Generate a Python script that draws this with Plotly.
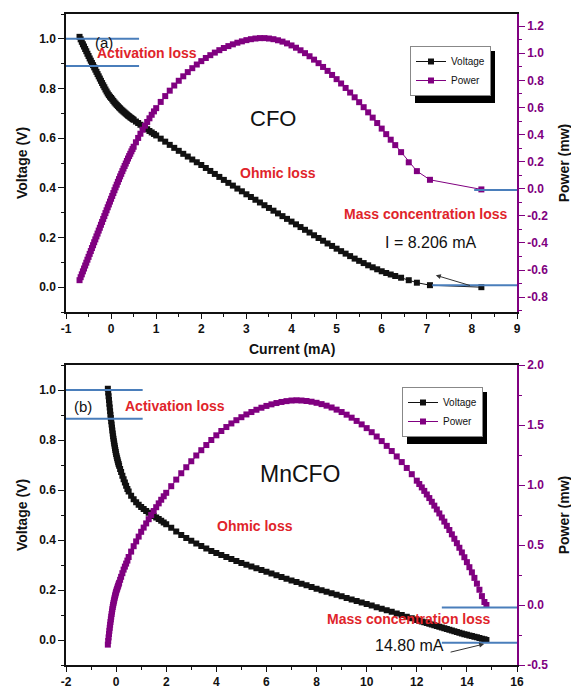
import plotly.graph_objects as go

# ---------------- data: panel (a) CFO ----------------
cfo_current = [-0.700, -0.675, -0.650, -0.625, -0.600, -0.575, -0.550, -0.525, -0.500, -0.475,
               -0.450, -0.425, -0.400, -0.375, -0.350, -0.325, -0.300, -0.275, -0.250, -0.225,
               -0.200, -0.175, -0.150, -0.125, -0.100, -0.075, -0.050, -0.025, 0.000, 0.025,
               0.050, 0.075, 0.100, 0.125, 0.150, 0.175, 0.200, 0.225, 0.250, 0.275,
               0.300, 0.325, 0.350, 0.375, 0.400, 0.425, 0.450, 0.475, 0.500,
               0.55, 0.60, 0.65, 0.70, 0.75, 0.80, 0.85, 0.90, 0.95, 1.00,
               1.1, 1.2, 1.3, 1.4, 1.5, 1.6, 1.7, 1.8, 1.9, 2.0,
               2.1, 2.2, 2.3, 2.4, 2.5, 2.6, 2.7, 2.8, 2.9, 3.0,
               3.1, 3.2, 3.3, 3.4, 3.5, 3.6, 3.7, 3.8, 3.9, 4.0,
               4.1, 4.2, 4.3, 4.4, 4.5, 4.6, 4.7, 4.8, 4.9, 5.0,
               5.1, 5.2, 5.3, 5.4, 5.5, 5.6, 5.7, 5.8, 5.9, 6.0,
               6.1, 6.2, 6.3, 6.43, 6.6, 6.78, 7.07, 8.21]
cfo_voltage = [1.008, 0.998, 0.988, 0.978, 0.969, 0.959, 0.950, 0.940, 0.931, 0.921,
               0.912, 0.903, 0.894, 0.885, 0.876, 0.867, 0.858, 0.849, 0.840, 0.831,
               0.822, 0.813, 0.805, 0.796, 0.788, 0.780, 0.773, 0.767, 0.762, 0.756,
               0.750, 0.744, 0.739, 0.734, 0.729, 0.724, 0.720, 0.715, 0.711, 0.707,
               0.703, 0.699, 0.695, 0.691, 0.688, 0.684, 0.681, 0.677, 0.674,
               0.667, 0.661, 0.654, 0.648, 0.642, 0.636, 0.629, 0.623, 0.617, 0.611,
               0.598, 0.586, 0.573, 0.561, 0.549, 0.537, 0.526, 0.514, 0.503, 0.492,
               0.480, 0.468, 0.456, 0.444, 0.432, 0.420, 0.409, 0.397, 0.386, 0.374,
               0.363, 0.352, 0.341, 0.330, 0.319, 0.308, 0.297, 0.286, 0.275, 0.264,
               0.253, 0.242, 0.231, 0.220, 0.209, 0.198, 0.187, 0.176, 0.166, 0.155,
               0.145, 0.135, 0.125, 0.115, 0.106, 0.097, 0.088, 0.080, 0.072, 0.064,
               0.057, 0.051, 0.045, 0.038, 0.028, 0.018, 0.008, 0.000]
cfo_power = [-0.675, -0.653, -0.632, -0.610, -0.589, -0.567, -0.546, -0.524, -0.503, -0.481,
             -0.460, -0.438, -0.417, -0.395, -0.374, -0.352, -0.331, -0.309, -0.288, -0.266,
             -0.245, -0.223, -0.202, -0.180, -0.159, -0.137, -0.116, -0.095, -0.074, -0.053,
             -0.032, -0.011, 0.010, 0.030, 0.051, 0.071, 0.091, 0.110, 0.130, 0.149,
             0.168, 0.186, 0.205, 0.223, 0.241, 0.258, 0.276, 0.293, 0.310,
             0.343, 0.375, 0.406, 0.436, 0.465, 0.493, 0.520, 0.546, 0.571, 0.595,
             0.641, 0.684, 0.724, 0.762, 0.797, 0.830, 0.861, 0.890, 0.917, 0.942,
             0.965, 0.986, 1.005, 1.023, 1.039, 1.053, 1.066, 1.078, 1.088, 1.097,
             1.104, 1.109, 1.112, 1.112, 1.109, 1.104, 1.096, 1.086, 1.073, 1.058,
             1.041, 1.022, 1.001, 0.978, 0.953, 0.927, 0.899, 0.870, 0.840, 0.809,
             0.777, 0.744, 0.710, 0.675, 0.639, 0.602, 0.564, 0.525, 0.485, 0.444,
             0.403, 0.362, 0.322, 0.270, 0.195, 0.130, 0.066, -0.005]

# ---------------- data: panel (b) MnCFO ----------------
mn_current = [-0.330, -0.315, -0.300, -0.285, -0.270, -0.255, -0.240, -0.225, -0.210, -0.195,
              -0.180, -0.165, -0.150, -0.135, -0.120, -0.105, -0.090, -0.075, -0.060, -0.045,
              -0.030, -0.015, 0.00, 0.02, 0.04, 0.06, 0.08, 0.10, 0.12, 0.16,
              0.20, 0.25, 0.30, 0.35, 0.40, 0.45, 0.50, 0.60, 0.70, 0.80,
              0.90, 1.00, 1.10, 1.20, 1.30, 1.40, 1.50, 1.60, 1.70, 1.80,
              1.90, 2.00,
              2.2, 2.4, 2.6, 2.8, 3.0, 3.2, 3.4, 3.6, 3.8, 4.0,
              4.2, 4.4, 4.6, 4.8, 5.0, 5.2, 5.4, 5.6, 5.8, 6.0,
              6.2, 6.4, 6.6, 6.8, 7.0, 7.2, 7.4, 7.6, 7.8, 8.0,
              8.2, 8.4, 8.6, 8.8, 9.0, 9.2, 9.4, 9.6, 9.8, 10.0,
              10.2, 10.4, 10.6, 10.8, 11.0, 11.2, 11.4, 11.6, 11.8, 12.0,
              12.1, 12.2, 12.3, 12.4, 12.5, 12.6, 12.7, 12.8, 12.9, 13.0,
              13.1, 13.2, 13.3, 13.4, 13.5, 13.6, 13.7, 13.8, 13.9, 14.0,
              14.1, 14.2, 14.3, 14.4, 14.5, 14.6, 14.7, 14.78]
mn_voltage = [1.005, 0.990, 0.975, 0.960, 0.945, 0.930, 0.915, 0.901, 0.888, 0.875,
              0.862, 0.850, 0.838, 0.826, 0.815, 0.805, 0.795, 0.786, 0.777, 0.768,
              0.760, 0.752, 0.744, 0.735, 0.727, 0.719, 0.711, 0.704, 0.697, 0.684,
              0.672, 0.657, 0.643, 0.630, 0.617, 0.604, 0.594, 0.577, 0.563, 0.551,
              0.541, 0.532, 0.524, 0.516, 0.509, 0.502, 0.496, 0.490, 0.484, 0.477,
              0.470, 0.463,
              0.449, 0.434, 0.420, 0.408, 0.397, 0.386, 0.376, 0.366, 0.356, 0.348,
              0.340, 0.332, 0.324, 0.316, 0.308, 0.301, 0.294, 0.287, 0.280, 0.273,
              0.266, 0.259, 0.252, 0.245, 0.238, 0.232, 0.225, 0.219, 0.212, 0.205,
              0.199, 0.193, 0.187, 0.181, 0.175, 0.168, 0.162, 0.156, 0.150, 0.144,
              0.138, 0.131, 0.125, 0.119, 0.113, 0.106, 0.100, 0.093, 0.087, 0.080,
              0.077, 0.074, 0.071, 0.068, 0.065, 0.062, 0.059, 0.056, 0.053, 0.050,
              0.047, 0.044, 0.041, 0.038, 0.035, 0.032, 0.029, 0.026, 0.023, 0.021,
              0.018, 0.016, 0.013, 0.011, 0.008, 0.005, 0.003, 0.000]
mn_power = [-0.330, -0.300, -0.270, -0.242, -0.215, -0.190, -0.165, -0.142, -0.120, -0.097,
            -0.075, -0.055, -0.035, -0.017, 0.000, 0.015, 0.030, 0.045, 0.060, 0.073,
            0.085, 0.098, 0.110, 0.123, 0.135, 0.148, 0.160, 0.173, 0.185, 0.210,
            0.235, 0.265, 0.295, 0.320, 0.345, 0.370, 0.400, 0.445, 0.490, 0.530,
            0.570, 0.610, 0.645, 0.680, 0.715, 0.750, 0.783, 0.815, 0.847, 0.877,
            0.906, 0.935,
            0.990, 1.045, 1.098, 1.148, 1.198, 1.246, 1.290, 1.333, 1.375, 1.414,
            1.450, 1.483, 1.513, 1.540, 1.565, 1.588, 1.608, 1.627, 1.644, 1.659,
            1.672, 1.683, 1.692, 1.699, 1.704, 1.706, 1.704, 1.700, 1.694, 1.685,
            1.674, 1.661, 1.646, 1.628, 1.608, 1.586, 1.561, 1.534, 1.505, 1.474,
            1.440, 1.404, 1.366, 1.326, 1.283, 1.238, 1.191, 1.142, 1.090, 1.036,
            1.008, 0.980, 0.951, 0.921, 0.891, 0.860, 0.828, 0.796, 0.763, 0.729,
            0.695, 0.660, 0.625, 0.589, 0.552, 0.515, 0.477, 0.438, 0.398, 0.357,
            0.315, 0.272, 0.226, 0.178, 0.127, 0.074, 0.025, 0.000]

# ---------------- tick labels ----------------
cfo_x_tickvals = [-1, 0, 1, 2, 3, 4, 5, 6, 7, 8, 9]
cfo_x_ticktext = ["-1", "0", "1", "2", "3", "4", "5", "6", "7", "8", "9"]
mn_x_tickvals = [-2, 0, 2, 4, 6, 8, 10, 12, 14, 16]
mn_x_ticktext = ["-2", "0", "2", "4", "6", "8", "10", "12", "14", "16"]
v_tickvals = [0.0, 0.2, 0.4, 0.6, 0.8, 1.0]
v_ticktext = ["0.0", "0.2", "0.4", "0.6", "0.8", "1.0"]
cfo_p_tickvals = [-0.8, -0.6, -0.4, -0.2, 0.0, 0.2, 0.4, 0.6, 0.8, 1.0, 1.2]
cfo_p_ticktext = ["-0.8", "-0.6", "-0.4", "-0.2", "0.0", "0.2", "0.4", "0.6", "0.8", "1.0", "1.2"]
mn_p_tickvals = [-0.5, 0.0, 0.5, 1.0, 1.5, 2.0]
mn_p_ticktext = ["-0.5", "0.0", "0.5", "1.0", "1.5", "2.0"]

# ---------------- style ----------------
FONT = "Liberation Sans, Arial, sans-serif"
BLACK = "#111111"
PURPLE = "#800080"
RED = "#e0242a"
BLUE = "#4a7ebb"
MSIZE = 6

# the page body adds an 8px offset; positions below are page pixels
OFF = 8
W, H = 579 - OFF, 688 - OFF
PL, PR = 66, 517          # plot area left/right in page pixels
ML = PL - OFF
MR = (W + OFF) - PR
PW = PR - PL


def px_x(px):
    return (px - PL) / PW


def px_y(py):
    return 1 - (py - OFF) / H


fig = go.Figure()

fig.add_trace(go.Scatter(x=cfo_current, y=cfo_voltage, name="Voltage", mode="lines+markers",
                         line=dict(color=BLACK, width=1),
                         marker=dict(symbol="square", size=MSIZE, color=BLACK),
                         xaxis="x", yaxis="y", legend="legend"))
fig.add_trace(go.Scatter(x=cfo_current, y=cfo_power, name="Power", mode="lines+markers",
                         line=dict(color=PURPLE, width=1),
                         marker=dict(symbol="square", size=MSIZE, color=PURPLE),
                         xaxis="x", yaxis="y2", legend="legend"))
fig.add_trace(go.Scatter(x=mn_current, y=mn_voltage, name="Voltage", mode="lines+markers",
                         line=dict(color=BLACK, width=1),
                         marker=dict(symbol="square", size=MSIZE, color=BLACK),
                         xaxis="x2", yaxis="y3", legend="legend2"))
fig.add_trace(go.Scatter(x=mn_current, y=mn_power, name="Power", mode="lines+markers",
                         line=dict(color=PURPLE, width=1),
                         marker=dict(symbol="square", size=MSIZE, color=PURPLE),
                         xaxis="x2", yaxis="y4", legend="legend2"))

tick_font = dict(family=FONT, size=12, color=BLACK, weight="bold")
tick_font_r = dict(family=FONT, size=12, color=PURPLE, weight="bold")
title_font = dict(family=FONT, size=14, color=BLACK, weight="bold")


def minor(d, col):
    return dict(tickmode="linear", tick0=0, dtick=d, ticks="outside", ticklen=3,
                tickcolor=col, showgrid=False)


common_x = dict(showline=True, linecolor=BLACK, linewidth=1.5, mirror=True,
                ticks="outside", ticklen=5, tickwidth=1.2, tickcolor=BLACK,
                showgrid=False, zeroline=False, tickfont=tick_font, tickmode="array")
common_yl = dict(showline=True, linecolor=BLACK, linewidth=1.5,
                 ticks="outside", ticklen=6, tickwidth=1.2, tickcolor=BLACK,
                 showgrid=False, zeroline=False, tickfont=tick_font, tickmode="array",
                 range=[-0.1, 1.1], tickvals=v_tickvals, ticktext=v_ticktext,
                 minor=minor(0.1, BLACK),
                 title=dict(text="Voltage (V)", font=title_font, standoff=8))
common_yr = dict(showline=True, linecolor=PURPLE, linewidth=1.5, side="right",
                 ticks="outside", ticklen=6, tickwidth=1.2, tickcolor=PURPLE,
                 showgrid=False, zeroline=False, tickfont=tick_font_r, tickmode="array",
                 title=dict(text="Power (mw)", font=title_font, standoff=12))

dom_a = [px_y(312), px_y(14)]
dom_b = [px_y(665), px_y(365)]

LEG_A = (410, 46)
LEG_B = (402, 387)

fig.update_layout(
    width=W, height=H,
    margin=dict(l=ML, r=MR, t=0, b=0, autoexpand=False),
    paper_bgcolor="white", plot_bgcolor="white",
    font=dict(family=FONT, color=BLACK),
    xaxis=dict(common_x, domain=[0, 1], anchor="y", range=[-1, 9],
               tickvals=cfo_x_tickvals, ticktext=cfo_x_ticktext, minor=minor(0.5, BLACK)),
    yaxis=dict(common_yl, domain=dom_a, anchor="x"),
    yaxis2=dict(common_yr, overlaying="y", anchor="x", range=[-0.91, 1.29],
                tickvals=cfo_p_tickvals, ticktext=cfo_p_ticktext, minor=minor(0.1, PURPLE)),
    xaxis2=dict(common_x, domain=[0, 1], anchor="y3", range=[-2, 16],
                tickvals=mn_x_tickvals, ticktext=mn_x_ticktext, minor=minor(1, BLACK)),
    yaxis3=dict(common_yl, domain=dom_b, anchor="x2"),
    yaxis4=dict(common_yr, overlaying="y3", anchor="x2", range=[-0.5, 2.0],
                tickvals=mn_p_tickvals, ticktext=mn_p_ticktext, minor=minor(0.25, PURPLE)),
    legend=dict(x=px_x(LEG_A[0]), y=px_y(LEG_A[1]), xanchor="left", yanchor="top",
                bgcolor="white", bordercolor="#888888", borderwidth=1,
                font=dict(family=FONT, size=10, color=BLACK), tracegroupgap=0, itemwidth=30),
    legend2=dict(x=px_x(LEG_B[0]), y=px_y(LEG_B[1]), xanchor="left", yanchor="top",
                 bgcolor="white", bordercolor="#888888", borderwidth=1,
                 font=dict(family=FONT, size=10, color=BLACK), tracegroupgap=0, itemwidth=30),
    showlegend=True,
)

LEG_W, LEG_H, SH = 80, 52, 5


def shadow(pos):
    x, y = pos
    return dict(type="rect", xref="paper", yref="paper",
                x0=px_x(x + SH), x1=px_x(x + LEG_W + SH),
                y0=px_y(y + LEG_H + SH), y1=px_y(y + SH),
                fillcolor="black", line=dict(width=0), layer="above")


shapes = [
    # panel (a) guide lines
    dict(type="line", xref="x", yref="y", x0=-1, x1=0.62, y0=1.0, y1=1.0, line=dict(color=BLUE, width=2)),
    dict(type="line", xref="x", yref="y", x0=-1, x1=0.62, y0=0.891, y1=0.891, line=dict(color=BLUE, width=2)),
    dict(type="line", xref="x", yref="y", x0=7.12, x1=9, y0=0.008, y1=0.008, line=dict(color=BLUE, width=2)),
    dict(type="line", xref="x", yref="y2", x0=8.05, x1=9, y0=-0.01, y1=-0.01, line=dict(color=BLUE, width=2)),
    # panel (b) guide lines
    dict(type="line", xref="x2", yref="y3", x0=-2, x1=1.06, y0=1.0, y1=1.0, line=dict(color=BLUE, width=2)),
    dict(type="line", xref="x2", yref="y3", x0=-2, x1=1.06, y0=0.885, y1=0.885, line=dict(color=BLUE, width=2)),
    dict(type="line", xref="x2", yref="y4", x0=13.0, x1=16.2, y0=-0.02, y1=-0.02, line=dict(color=BLUE, width=2)),
    dict(type="line", xref="x2", yref="y3", x0=13.0, x1=16.2, y0=-0.011, y1=-0.011, line=dict(color=BLUE, width=2)),
    # legend drop shadows
    shadow(LEG_A),
    shadow(LEG_B),
]
fig.update_layout(shapes=shapes)

red_font = dict(family=FONT, size=14, color=RED, weight="bold")
ann = [
    # panel (a)
    dict(x=-0.16, y=0.987, xref="x", yref="y", text="(a)", showarrow=False, font=dict(family=FONT, size=15, color=BLACK)),
    dict(x=0.79, y=0.942, xref="x", yref="y", text="Activation loss", showarrow=False, font=red_font),
    dict(x=3.58, y=0.678, xref="x", yref="y", text="CFO", showarrow=False, font=dict(family=FONT, size=22, color=BLACK)),
    dict(x=3.71, y=0.461, xref="x", yref="y", text="Ohmic loss", showarrow=False, font=red_font),
    dict(x=6.98, y=0.296, xref="x", yref="y", text="Mass concentration loss", showarrow=False, font=red_font),
    dict(x=7.08, y=0.178, xref="x", yref="y", text="I = 8.206 mA", showarrow=False, font=dict(family=FONT, size=16, color=BLACK)),
    dict(x=7.2, y=0.048, ax=7.99, ay=0.005, xref="x", yref="y", axref="x", ayref="y", text="",
         showarrow=True, arrowhead=2, arrowsize=1, arrowwidth=1, arrowcolor="#333333"),
    dict(x=0.5, y=px_y(349), xref="paper", yref="paper", text="Current (mA)", showarrow=False,
         font=dict(family=FONT, size=14, color=BLACK, weight="bold")),
    # panel (b)
    dict(x=-1.33, y=0.933, xref="x2", yref="y3", text="(b)", showarrow=False, font=dict(family=FONT, size=15, color=BLACK)),
    dict(x=2.34, y=0.936, xref="x2", yref="y3", text="Activation loss", showarrow=False, font=red_font),
    dict(x=7.35, y=0.666, xref="x2", yref="y3", text="MnCFO", showarrow=False, font=dict(family=FONT, size=23, color=BLACK)),
    dict(x=5.55, y=0.458, xref="x2", yref="y3", text="Ohmic loss", showarrow=False, font=red_font),
    dict(x=11.69, y=0.084, xref="x2", yref="y3", text="Mass concentration loss", showarrow=False, font=red_font),
    dict(x=11.7, y=-0.023, xref="x2", yref="y3", text="14.80 mA", showarrow=False, font=dict(family=FONT, size=16, color=BLACK)),
    dict(x=14.69, y=-0.016, ax=13.29, ay=-0.05, xref="x2", yref="y3", axref="x2", ayref="y3", text="",
         showarrow=True, arrowhead=2, arrowsize=1, arrowwidth=1, arrowcolor="#333333"),
]
fig.update_layout(annotations=ann)

fig.write_html("out.html")
